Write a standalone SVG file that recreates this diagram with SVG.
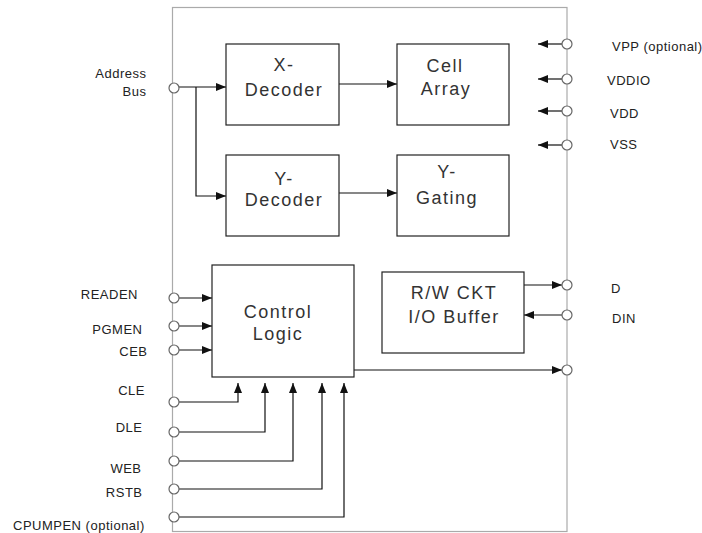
<svg xmlns="http://www.w3.org/2000/svg" width="702" height="533" viewBox="0 0 702 533">
<style>
.box{fill:#fff;stroke:#222;stroke-width:1.2}
.frame{fill:none;stroke:#aaa;stroke-width:1.2}
.pin{fill:#fff;stroke:#666;stroke-width:1.2}
.wire{fill:none;stroke:#111;stroke-width:1.2}
.bt{font-family:"Liberation Sans",Arial,sans-serif;font-size:18px;letter-spacing:1.5px;fill:#333;text-anchor:middle}
.lb{font-family:"Liberation Sans",Arial,sans-serif;font-size:13px;letter-spacing:0.5px;fill:#222}
.end{text-anchor:end}
</style>
<defs>
<marker id="ah" markerWidth="10" markerHeight="8" refX="10" refY="4" orient="auto" markerUnits="userSpaceOnUse">
<path d="M0,0 L10,4 L0,8 z" fill="#111"/>
</marker>
</defs>
<rect class="frame" x="172.5" y="7.5" width="394.5" height="524"/>
<g id="connectors">
<path class="wire" d="M179,87 H226" marker-end="url(#ah)"/>
<path class="wire" d="M196,87 V196 H226" marker-end="url(#ah)"/>
<path class="wire" d="M339,84 H397" marker-end="url(#ah)"/>
<path class="wire" d="M339,193 H397" marker-end="url(#ah)"/>
<path class="wire" d="M562,44 H538" marker-end="url(#ah)"/>
<path class="wire" d="M562,79 H538" marker-end="url(#ah)"/>
<path class="wire" d="M562,111 H538" marker-end="url(#ah)"/>
<path class="wire" d="M562,145 H538" marker-end="url(#ah)"/>
<path class="wire" d="M179,298 H212" marker-end="url(#ah)"/>
<path class="wire" d="M179,326 H212" marker-end="url(#ah)"/>
<path class="wire" d="M179,350 H212" marker-end="url(#ah)"/>
<path class="wire" d="M179,402 H238 V383" marker-end="url(#ah)"/>
<path class="wire" d="M179,432 H265 V383" marker-end="url(#ah)"/>
<path class="wire" d="M179,461 H293 V383" marker-end="url(#ah)"/>
<path class="wire" d="M179,489 H322 V383" marker-end="url(#ah)"/>
<path class="wire" d="M179,517 H344 V383" marker-end="url(#ah)"/>
<path class="wire" d="M524,285 H562" marker-end="url(#ah)"/>
<path class="wire" d="M562,315 H524" marker-end="url(#ah)"/>
<path class="wire" d="M354,370 H562" marker-end="url(#ah)"/>
</g>
<g id="x-decoder">
<rect class="box" x="226" y="44" width="113" height="81"/>
<text class="bt" x="284" y="71">X-</text>
<text class="bt" x="284" y="96">Decoder</text>
</g>
<g id="y-decoder">
<rect class="box" x="226" y="155" width="113" height="81"/>
<text class="bt" x="284" y="185">Y-</text>
<text class="bt" x="284" y="206">Decoder</text>
</g>
<g id="cell-array">
<rect class="box" x="397" y="44" width="112" height="81"/>
<text class="bt" x="445" y="72">Cell</text>
<text class="bt" x="446" y="95">Array</text>
</g>
<g id="y-gating">
<rect class="box" x="397" y="155" width="112" height="81"/>
<text class="bt" x="447" y="178">Y-</text>
<text class="bt" x="447" y="204">Gating</text>
</g>
<g id="control-logic">
<rect class="box" x="212" y="265" width="142" height="112"/>
<text class="bt" x="278" y="318">Control</text>
<text class="bt" x="278" y="340">Logic</text>
</g>
<g id="rw-ckt">
<rect class="box" x="382" y="272" width="142" height="81"/>
<text class="bt" x="454" y="299">R/W CKT</text>
<text class="bt" x="454" y="323">I/O Buffer</text>
</g>
<g id="pins">
<circle class="pin" cx="174" cy="88" r="5"/>
<circle class="pin" cx="567" cy="44" r="5"/>
<circle class="pin" cx="567" cy="79" r="5"/>
<circle class="pin" cx="567" cy="111" r="5"/>
<circle class="pin" cx="567" cy="145" r="5"/>
<circle class="pin" cx="174" cy="298" r="5"/>
<circle class="pin" cx="174" cy="326" r="5"/>
<circle class="pin" cx="174" cy="350" r="5"/>
<circle class="pin" cx="174" cy="402" r="5"/>
<circle class="pin" cx="174" cy="432" r="5"/>
<circle class="pin" cx="174" cy="461" r="5"/>
<circle class="pin" cx="174" cy="489" r="5"/>
<circle class="pin" cx="174" cy="517" r="5"/>
<circle class="pin" cx="567" cy="285" r="5"/>
<circle class="pin" cx="567" cy="315" r="5"/>
<circle class="pin" cx="567" cy="370" r="5"/>
</g>
<g id="labels">
<text class="lb end" x="146.5" y="78">Address</text>
<text class="lb end" x="146.5" y="96">Bus</text>
<text class="lb" x="612" y="51">VPP (optional)</text>
<text class="lb" x="607" y="85">VDDIO</text>
<text class="lb" x="610" y="118">VDD</text>
<text class="lb" x="610" y="149">VSS</text>
<text class="lb end" x="138" y="299">READEN</text>
<text class="lb end" x="142.5" y="334">PGMEN</text>
<text class="lb end" x="147.5" y="356">CEB</text>
<text class="lb end" x="145" y="395">CLE</text>
<text class="lb end" x="142.5" y="432">DLE</text>
<text class="lb end" x="141.5" y="473">WEB</text>
<text class="lb end" x="142.5" y="497">RSTB</text>
<text class="lb" x="13" y="530">CPUMPEN (optional)</text>
<text class="lb" x="611" y="293">D</text>
<text class="lb" x="612" y="323">DIN</text>
</g>
</svg>
